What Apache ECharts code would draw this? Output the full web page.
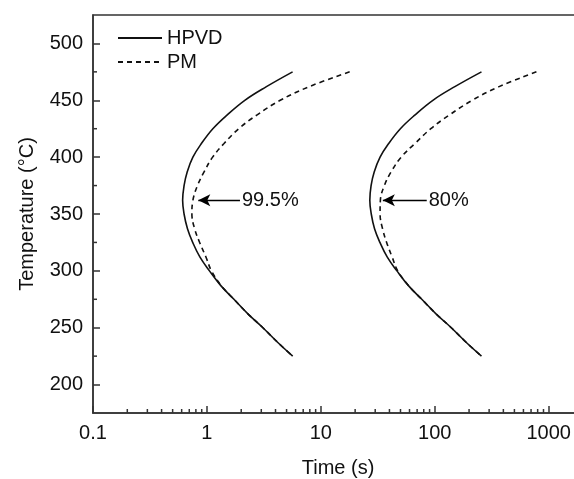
<!DOCTYPE html>
<html>
<head>
<meta charset="utf-8">
<style>
  html, body { margin: 0; padding: 0; background: #fff; }
  #main { width: 574px; height: 479px; }
</style>
<script src="https://cdn.jsdelivr.net/npm/echarts@6/dist/echarts.min.js"></script>
</head>
<body>
<div id="main"></div>
<script>
// 温度 (°C) 与各曲线的时间 (s)
var temps   = [475, 462, 450, 437, 425, 412, 400, 387, 375, 362, 350, 337, 325, 312, 300, 287, 275, 262, 250, 237, 225];
var hpvd995 = [5.65, 3.33, 2.15, 1.50, 1.127, 0.895, 0.753, 0.671, 0.630, 0.612, 0.630, 0.675, 0.750, 0.869, 1.052, 1.324, 1.726, 2.30, 3.10, 4.19, 5.66];
var pm995   = [17.9, 7.91, 4.40, 2.74, 1.90, 1.413, 1.122, 0.944, 0.826, 0.753, 0.738, 0.780, 0.863, 0.982, 1.096, 1.334, 1.726, 2.30, 3.10, 4.19, 5.66];
var hpvd80  = [257, 150, 96.2, 66.8, 49.9, 39.4, 33.1, 29.4, 27.6, 26.9, 27.7, 29.6, 33.0, 38.3, 46.5, 58.7, 76.9, 103.0, 139.6, 189.2, 257];
var pm80    = [780, 367, 213, 134, 92.3, 67.0, 50.7, 41.3, 36.1, 33.3, 33.1, 34.8, 37.8, 42.3, 47.3, 58.9, 76.9, 103.0, 139.6, 189.2, 257];

// 箭头标注
var arrowTemp   = 362;
var arrowTips   = [0.84, 35];
var arrowTails  = [1.95, 85];
var arrowLabels = ['99.5%', '80%'];

// 坐标轴
var xMin = 0.1, xMax = 2000;
var yMin = 175, yMax = 525;
var decades = [0.1, 1, 10, 100, 1000];
var minorSteps = [2, 3, 4, 5, 6, 7, 8, 9];
var yMinorTicks = [225, 275, 325, 375, 425, 475];

var axisColor = '#333';
var font = 'Liberation Sans';
var fs = 20;

function pairs(xs, ys) {
    var out = [];
    for (var i = 0; i < xs.length; i++) out.push([xs[i], ys[i]]);
    return out;
}

var xMinorData = [];
for (var d = 0; d < decades.length; d++) {
    for (var s = 0; s < minorSteps.length; s++) {
        var v = +(decades[d] * minorSteps[s]).toPrecision(6);
        if (v < xMax) xMinorData.push([v, yMin]);
    }
}
var yMinorData = [];
for (var k = 0; k < yMinorTicks.length; k++) yMinorData.push([xMin, yMinorTicks[k]]);

function arrowLine(i) {
    return {
        silent: true,
        symbol: ['arrow', 'none'],
        symbolSize: [9, 12],
        lineStyle: { color: '#000', type: 'solid', width: 1.4 },
        label: {
            show: true, position: 'end', distance: 2,
            formatter: arrowLabels[i], color: '#111', fontSize: fs, fontFamily: font
        },
        data: [[{ coord: [arrowTips[i], arrowTemp] }, { coord: [arrowTails[i], arrowTemp] }]]
    };
}

var solidStyle = { color: '#111', width: 1.6, type: 'solid' };
var dashStyle = { color: '#111', width: 1.6, type: [5, 4] };

var myChart = echarts.init(document.getElementById('main'));
var option = {
    animation: false,
    backgroundColor: '#fff',
    grid: {
        left: 93, top: 15, right: -9, bottom: 66,
        outerBoundsMode: 'none', containLabel: false,
        show: true, borderColor: axisColor, borderWidth: 1.5
    },
    legend: {
        data: ['HPVD', 'PM'],
        orient: 'vertical',
        left: 112, top: 23,
        itemWidth: 44, itemHeight: 14, itemGap: 4,
        itemStyle: { opacity: 0 },
        textStyle: { fontSize: fs, color: '#111', fontFamily: font }
    },
    xAxis: {
        type: 'log', logBase: 10, min: xMin, max: xMax,
        name: 'Time (s)', nameLocation: 'middle', nameGap: 45,
        nameTextStyle: { fontSize: fs, color: '#111', fontFamily: font },
        axisLine: { lineStyle: { color: axisColor, width: 1.5 } },
        axisTick: { inside: true, length: 7, lineStyle: { color: axisColor, width: 1.5 } },
        axisLabel: {
            margin: 10, fontSize: fs, color: '#111', fontFamily: font,
            showMaxLabel: false,
            formatter: function (v) { return String(+(+v).toPrecision(6)); }
        },
        splitLine: { show: false }
    },
    yAxis: {
        type: 'value', min: yMin, max: yMax, splitNumber: 7,
        name: 'Temperature (°C)', nameLocation: 'middle', nameGap: 56,
        nameTextStyle: { fontSize: fs, color: '#111', fontFamily: font },
        axisLine: { show: true, lineStyle: { color: axisColor, width: 1.5 } },
        axisTick: { show: true, inside: true, length: 7, lineStyle: { color: axisColor, width: 1.5 } },
        axisLabel: {
            margin: 10, fontSize: fs, color: '#111', fontFamily: font,
            showMinLabel: false, showMaxLabel: false
        },
        splitLine: { show: false }
    },
    series: [
        {
            name: 'HPVD', type: 'line', data: pairs(hpvd995, temps), smooth: 0.4,
            symbol: 'none', lineStyle: solidStyle, itemStyle: { color: '#111' }, z: 3
        },
        {
            name: 'PM', type: 'line', data: pairs(pm995, temps), smooth: 0.4,
            symbol: 'none', lineStyle: dashStyle, itemStyle: { color: '#111' }, z: 2,
            markLine: arrowLine(0)
        },
        {
            name: 'HPVD', type: 'line', data: pairs(hpvd80, temps), smooth: 0.4,
            symbol: 'none', lineStyle: solidStyle, itemStyle: { color: '#111' }, z: 3
        },
        {
            name: 'PM', type: 'line', data: pairs(pm80, temps), smooth: 0.4,
            symbol: 'none', lineStyle: dashStyle, itemStyle: { color: '#111' }, z: 2,
            markLine: arrowLine(1)
        },
        {
            // x 轴次刻度
            type: 'custom', silent: true, clip: false, data: xMinorData,
            renderItem: function (params, api) {
                var p = api.coord([api.value(0), api.value(1)]);
                return { type: 'line', shape: { x1: p[0], y1: p[1], x2: p[0], y2: p[1] - 4 },
                         style: { stroke: axisColor, lineWidth: 1.5 } };
            }
        },
        {
            // y 轴次刻度
            type: 'custom', silent: true, clip: false, data: yMinorData,
            renderItem: function (params, api) {
                var p = api.coord([api.value(0), api.value(1)]);
                return { type: 'line', shape: { x1: p[0], y1: p[1], x2: p[0] + 4, y2: p[1] },
                         style: { stroke: axisColor, lineWidth: 1.5 } };
            }
        }
    ]
};
myChart.setOption(option);
</script>
</body>
</html>
